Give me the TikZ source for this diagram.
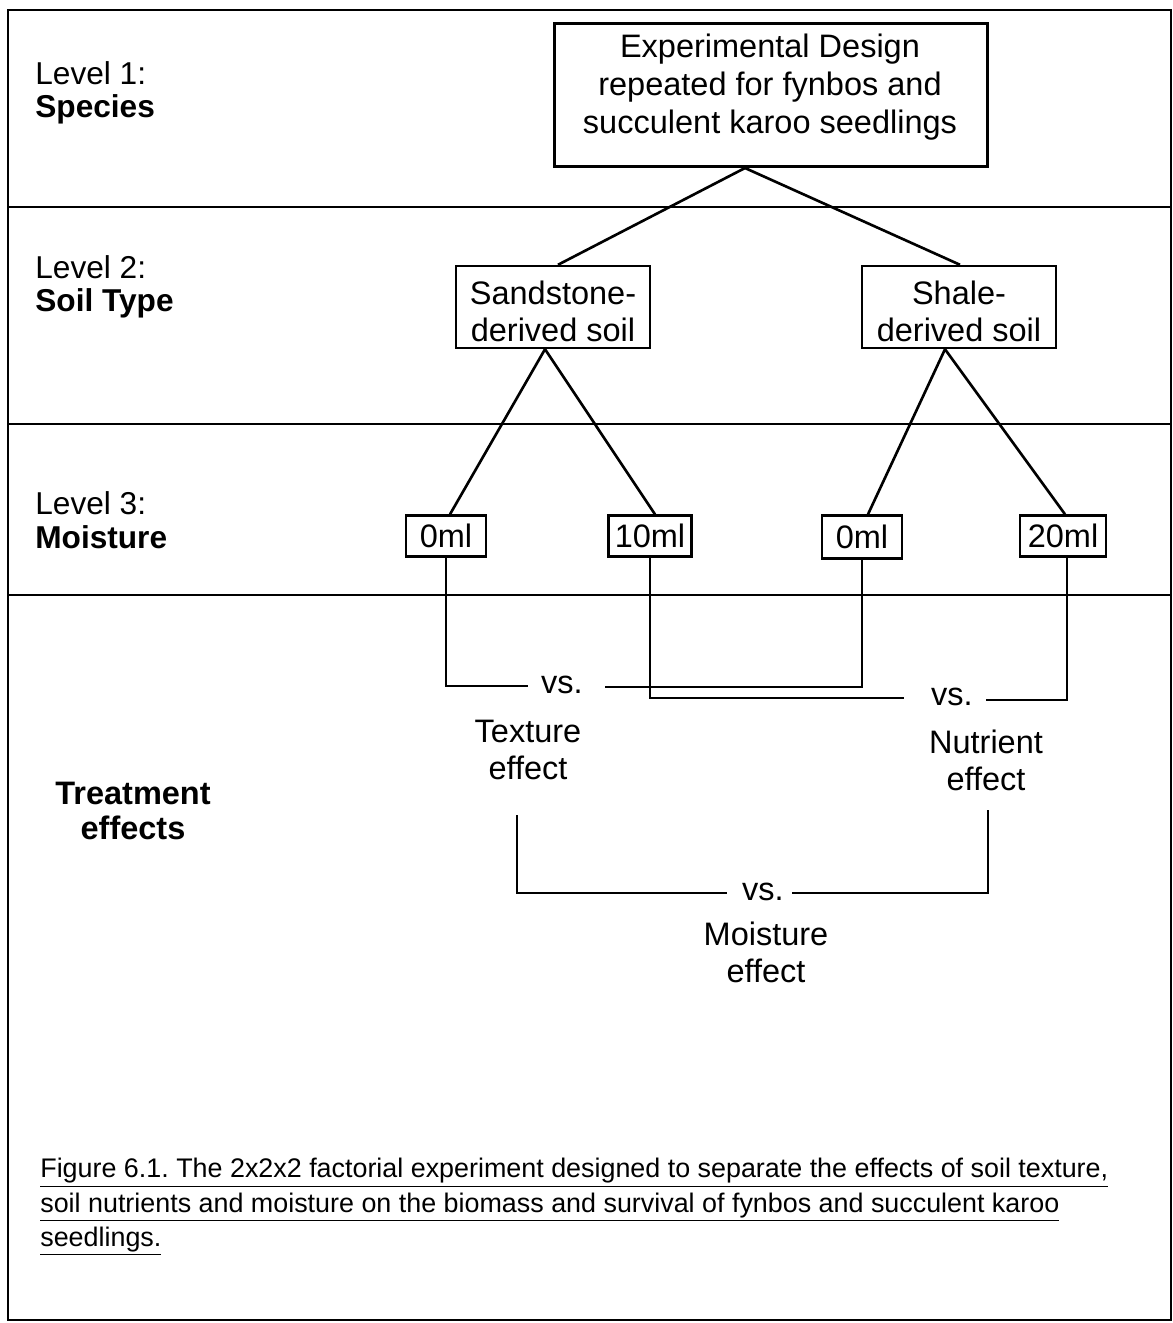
\documentclass[tikz,border=0pt]{standalone}
\usepackage{fontspec}
\setmainfont{Liberation Sans}
\newfontfamily\capfont{Liberation Sans}
\usetikzlibrary{positioning,calc}

\tikzset{
  levellabel/.style={anchor=west, align=left, inner sep=0pt,
    font=\fontsize{18}{19}\selectfont},
  designbox/.style={draw, line width=1.4pt, align=center, inner sep=0pt,
    font=\fontsize{18.5}{21.5}\selectfont},
  mlbox/.style={designbox, minimum height=0.82cm},
  plain/.style={align=center, inner sep=0pt, font=\fontsize{18.5}{21}\selectfont},
  versus/.style={inner sep=0pt, font=\fontsize{18.5}{21}\selectfont},
  tree/.style={line width=1.5pt},
  link/.style={line width=1.1pt},
  rule/.style={line width=0.9pt}
}
\newcommand{\capline}[1]{\underline{#1}}

\begin{document}
\frenchspacing
\begin{tikzpicture}[x=0.02cm, y=-0.02cm]
\useasboundingbox (0,0) rectangle (1173,1323);
\fill[white] (0,0) rectangle (1173,1323);

% frame and level bands
\draw[rule] (8,10) rectangle (1171,1320);
\draw[rule] (8,207) -- (1171,207);
\draw[rule] (8,424) -- (1171,424);
\draw[rule] (8,595) -- (1171,595);

% level labels
\node[levellabel] (lev1) at (35,93) {Level 1:\\\textbf{Species}};
\node[levellabel] (lev2) at (35,287) {Level 2:\\\textbf{Soil Type}};
\node[levellabel] (lev3) at (35,520) {Level 3:\\\textbf{Moisture}};
\node[plain, font=\fontsize{18.5}{19.5}\selectfont\bfseries] (treat) at (133,811) {Treatment\\effects};

% level 1
\node[designbox, minimum width=8.66cm, minimum height=2.86cm] (design) at (771,95) {};
\node[plain, font=\fontsize{18.5}{21.5}\selectfont] (designtext) at (770,87)
  {Experimental Design\\repeated for fynbos and\\succulent karoo seedlings};

% level 2
\node[designbox, minimum width=3.88cm, minimum height=1.64cm] (sand) at (553,307) {};
\node[plain] (sandtext) at (553,311) {Sandstone-\\derived soil};
\node[designbox, minimum width=3.88cm, minimum height=1.64cm] (shale) at (959,307) {};
\node[plain] (shaletext) at (959,311) {Shale-\\derived soil};

% level 3
\node[mlbox, minimum width=1.6cm] (sand0) at (446,536) {0ml};
\node[mlbox, minimum width=1.66cm] (sand10) at (650,536) {10ml};
\node[mlbox, minimum width=1.6cm, minimum height=0.86cm] (shale0) at (862,537) {0ml};
\node[mlbox, minimum width=1.72cm] (shale20) at (1063,536) {20ml};

% tree
\coordinate (apex) at (745,168);
\draw[tree] ($(sand.north)+(5,0)$) -- (apex) -- ($(shale.north)+(1,0)$);
\draw[tree] ($(sand.south)+(-8,0)$) -- ($(sand0.north)+(4,0)$);
\draw[tree] ($(sand.south)+(-8,0)$) -- ($(sand10.north)+(5,0)$);
\draw[tree] ($(shale.south)+(-14,0)$) -- ($(shale0.north)+(6,0)$);
\draw[tree] ($(shale.south)+(-14,0)$) -- ($(shale20.north)+(2,0)$);

% treatment effects
\node[versus] (vsA) at (562,685) {vs.};
\node[versus] (vsB) at (952,697) {vs.};
\node[plain] (texture) at (528,750) {Texture\\effect};
\node[plain] (nutrient) at (986,760) {Nutrient\\effect};
\draw[link] (sand0.south) |- ($(vsA.west)+(-13,1)$);
\draw[link] ($(vsA.east)+(22,2)$) -| (shale0.south);
\draw[link] (sand10.south) |- ($(vsB.west)+(-27,1)$);
\draw[link] ($(vsB.east)+(13,3)$) -| ($(shale20.south)+(4,0)$);

\coordinate (textureend) at (517,815);
\coordinate (nutrientend) at (988,810);
\node[versus] (vsC) at (763,892) {vs.};
\node[plain] (moisture) at (766,952) {Moisture\\effect};
\draw[link] (textureend) |- ($(vsC.west)+(-15,1)$);
\draw[link] ($(vsC.east)+(8,1)$) -| (nutrientend);

% caption
\node[anchor=north west, align=left, inner sep=0pt,
  font=\capfont\fontsize{15.3}{19.5}\selectfont] (caption) at (40,1158)
  {\capline{Figure 6.1. The 2x2x2 factorial experiment designed to separate the effects of soil texture,}\\
   \capline{soil nutrients and moisture on the biomass and survival of fynbos and succulent karoo}\\
   \capline{seedlings.}};
\end{tikzpicture}
\end{document}
